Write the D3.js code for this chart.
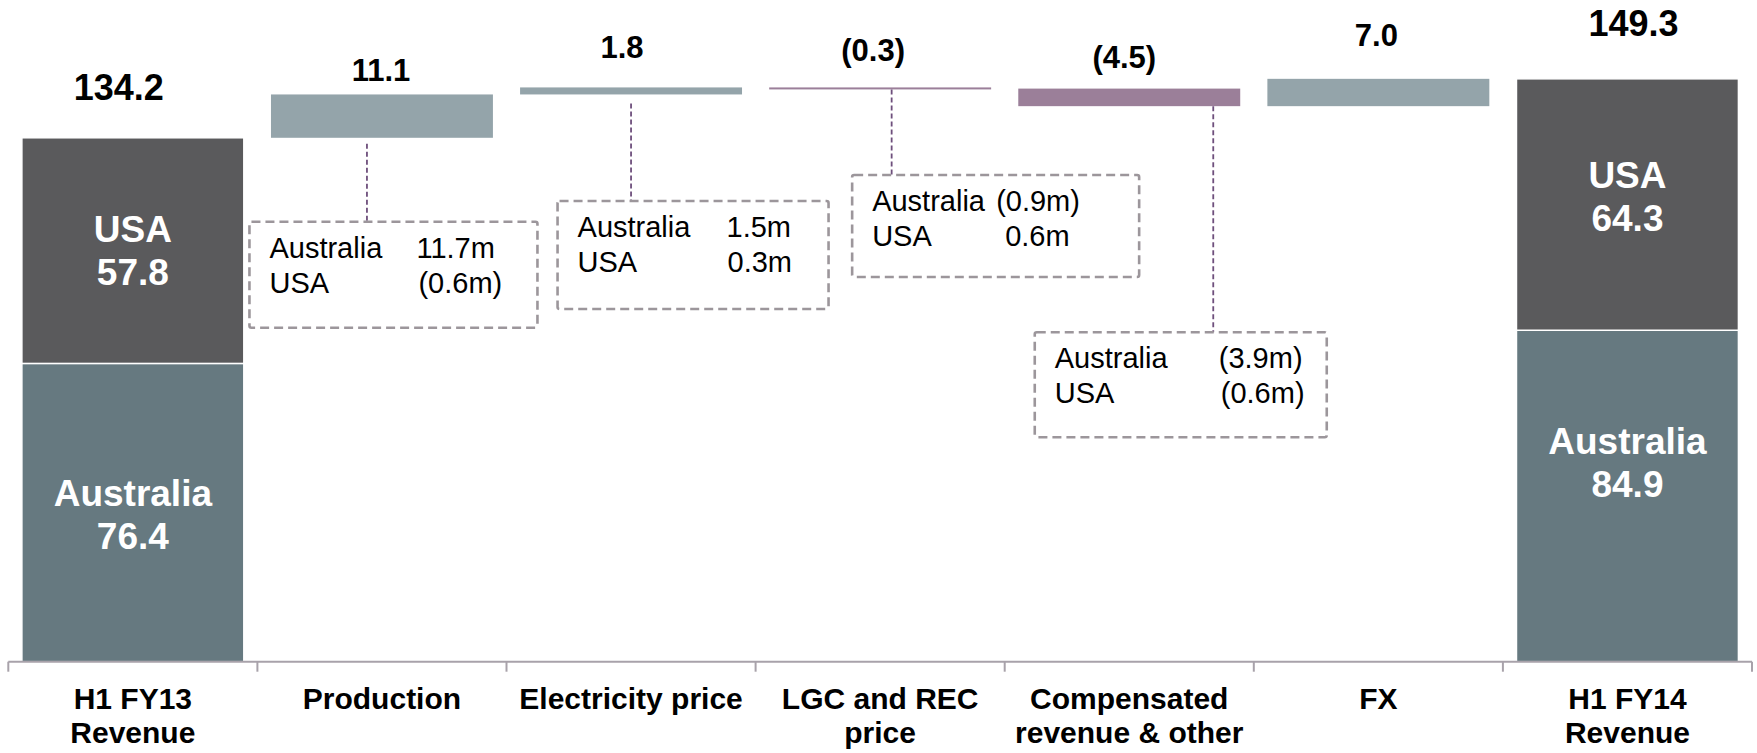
<!DOCTYPE html>
<html>
<head>
<meta charset="utf-8">
<script src="https://cdn.jsdelivr.net/npm/d3@7"></script>
<style>
  body { margin: 0; background: #fff; }
  svg text { font-family: "Liberation Sans", Arial, sans-serif; }
</style>
</head>
<body>
<svg class="chart"></svg>
<script>
// data

const categories = [
  ["H1 FY13", "Revenue"],
  ["Production"],
  ["Electricity price"],
  ["LGC and REC", "price"],
  ["Compensated", "revenue & other"],
  ["FX"],
  ["H1 FY14", "Revenue"]
];
const regions = ["Australia", "USA"];
const fy13Values = [76.4, 57.8];
const fy14Values = [84.9, 64.3];
const revenueTotals = [134.2, 149.3];
const deltas = [11.1, 1.8, -0.3, -4.5, 7.0];
const australiaDetail = [11.7, 1.5, -0.9, -3.9];
const usaDetail = [-0.6, 0.3, 0.6, -0.6];

// layout

const width = 1757, height = 753;
const baseY = 661.7;

const colors = {
  USA: "#5a5a5c",
  Australia: "#667980",
  up: "#94a4aa",
  down: "#9b7f99",
  box: "#9c969b",
  link: "#6e4f7c",
  axis: "#a8a2aa"
};

// label nudges (px) for totals/deltas: [dx, gap above bar top]
const labelNudge = [[-14, 38], [-1, 13], [-9, 29], [-7, 26], [-5, 21], [-2, 33], [6, 43]];
// inside-bar label vertical nudge per stacked bar
const stackNudge = { 0: [1, -1], 6: [-34, -9] };

// annotation boxes, relative to the band centre of their category
const boxes = [
  { dx: -132.5, top: 221.7, w: 288, h: 106, linkDx: -15, gap: 6, valX: [167, 169] },
  { dx: -73.5, top: 201, w: 271, h: 108, linkDx: 0, gap: 9, valX: [169, 170] },
  { dx: -28, top: 175, w: 287, h: 102, linkDx: 11.5, gap: 0, valX: [144, 153] },
  { dx: -94.5, top: 332.3, w: 292, h: 105, linkDx: 84, gap: 0, valX: [184, 186] }
];

const fmtDelta = (v) => v < 0 ? `(${d3.format(".1f")(-v)})` : d3.format(".1f")(v);
const fmtM = (v) => v < 0 ? `(${d3.format(".1f")(-v)}m)` : `${d3.format(".1f")(v)}m`;

const svg = d3.select(".chart")
  .attr("width", width)
  .attr("height", height);

const x = d3.scaleBand()
  .domain(d3.range(categories.length))
  .range([8.3, 1752])
  .paddingInner(0.109)
  .paddingOuter(0.0545);

const y = d3.scaleLinear()
  .domain([0, 150])
  .range([baseY, 76.1]);

// build waterfall steps

let running = revenueTotals[0];
const steps = deltas.map((d, i) => {
  const s = { i: i + 1, from: running, to: running + d, value: d };
  running += d;
  return s;
});

// stacked totals

const stacks = [
  { i: 0, vals: fy13Values, total: revenueTotals[0] },
  { i: 6, vals: fy14Values, total: revenueTotals[1] }
];

stacks.forEach((st) => {
  let acc = 0;
  const segs = regions.map((r, k) => {
    const seg = { region: r, y0: acc, y1: acc + st.vals[k], value: st.vals[k] };
    acc += st.vals[k];
    return seg;
  });
  // top segment reaches the reported total
  segs[segs.length - 1].y1 = st.total;

  const g = svg.append("g").attr("class", "stack");

  g.selectAll("rect")
    .data(segs)
    .enter().append("rect")
    .attr("x", x(st.i))
    .attr("width", x.bandwidth())
    .attr("y", (d) => y(d.y1))
    .attr("height", (d) => y(d.y0) - y(d.y1))
    .attr("fill", (d) => colors[d.region])
    .attr("stroke", "#fff")
    .attr("stroke-width", 1.5);

  const lbl = g.selectAll("text.seg")
    .data(segs)
    .enter().append("text")
    .attr("class", "seg")
    .attr("text-anchor", "middle")
    .attr("font-size", 37)
    .attr("font-weight", "bold")
    .attr("fill", "#fff")
    .attr("transform", (d, k) => {
      const cy = (y(d.y0) + y(d.y1)) / 2 + (stackNudge[st.i] ? stackNudge[st.i][k] : 0);
      return `translate(${x(st.i) + x.bandwidth() / 2},${cy})`;
    });
  lbl.append("tspan").attr("x", 0).attr("y", -8).text((d) => d.region);
  lbl.append("tspan").attr("x", 0).attr("y", 35).text((d) => d3.format(".1f")(d.value));

  g.append("text")
    .attr("text-anchor", "middle")
    .attr("font-size", 36)
    .attr("font-weight", "bold")
    .attr("fill", "#000")
    .attr("x", x(st.i) + x.bandwidth() / 2 + labelNudge[st.i][0])
    .attr("y", y(st.total) - labelNudge[st.i][1])
    .text(d3.format(".1f")(st.total));
});

// floating delta bars

const stepG = svg.selectAll("g.step")
  .data(steps)
  .enter().append("g")
  .attr("class", "step");

stepG.append("rect")
  .attr("x", (d) => x(d.i))
  .attr("width", x.bandwidth())
  .attr("y", (d) => y(Math.max(d.from, d.to)))
  .attr("height", (d) => Math.max(2, Math.abs(y(d.from) - y(d.to))))
  .attr("fill", (d) => d.value < 0 ? colors.down : colors.up);

stepG.append("text")
  .attr("text-anchor", "middle")
  .attr("font-size", 31)
  .attr("font-weight", "bold")
  .attr("fill", "#000")
  .attr("x", (d) => x(d.i) + x.bandwidth() / 2 + labelNudge[d.i][0])
  .attr("y", (d) => y(Math.max(d.from, d.to)) - labelNudge[d.i][1])
  .text((d) => fmtDelta(d.value));

// annotation boxes with regional split

const notes = boxes.map((b, k) => {
  const st = steps[k];
  const cx = x(st.i) + x.bandwidth() / 2;
  const barBottom = Math.max(y(Math.min(st.from, st.to)), y(Math.max(st.from, st.to)) + 2);
  return Object.assign({}, b, {
    left: cx + b.dx,
    linkX: cx + b.linkDx,
    linkY: barBottom + b.gap,
    rows: [[regions[0], australiaDetail[k]], [regions[1], usaDetail[k]]]
  });
});

const noteG = svg.selectAll("g.note")
  .data(notes)
  .enter().append("g")
  .attr("class", "note");

noteG.append("line")
  .attr("x1", (d) => d.linkX)
  .attr("x2", (d) => d.linkX)
  .attr("y1", (d) => d.linkY)
  .attr("y2", (d) => d.top)
  .attr("stroke", colors.link)
  .attr("stroke-width", 1.8)
  .attr("stroke-dasharray", "5,3");

noteG.append("rect")
  .attr("x", (d) => d.left)
  .attr("y", (d) => d.top)
  .attr("width", (d) => d.w)
  .attr("height", (d) => d.h)
  .attr("rx", 2)
  .attr("fill", "none")
  .attr("stroke", colors.box)
  .attr("stroke-width", 2.6)
  .attr("stroke-dasharray", "9,5");

noteG.each(function (d) {
  const g = d3.select(this);
  d.rows.forEach((row, r) => {
    const ty = d.top + 36 + r * 35;
    g.append("text")
      .attr("x", d.left + 20)
      .attr("y", ty)
      .attr("font-size", 29)
      .attr("fill", "#000")
      .text(row[0]);
    g.append("text")
      .attr("x", d.left + d.valX[r])
      .attr("y", ty)
      .attr("font-size", 29)
      .attr("fill", "#000")
      .text(fmtM(row[1]));
  });
});

// axis

const axisG = svg.append("g").attr("class", "axis");
const x0 = x.range()[0], x1 = x.range()[1];

axisG.append("line")
  .attr("x1", x0).attr("x2", x1)
  .attr("y1", baseY).attr("y2", baseY)
  .attr("stroke", colors.axis)
  .attr("stroke-width", 2);

axisG.selectAll("line.tick")
  .data(d3.range(categories.length + 1))
  .enter().append("line")
  .attr("class", "tick")
  .attr("x1", (i) => x0 + i * x.step())
  .attr("x2", (i) => x0 + i * x.step())
  .attr("y1", baseY)
  .attr("y2", baseY + 10)
  .attr("stroke", colors.axis)
  .attr("stroke-width", 2);

// one text per label line so wrapped lines stay apart
axisG.selectAll("text.cat")
  .data(categories.flatMap((d, i) => d.map((line, k) => ({ line, i, k }))))
  .enter().append("text")
  .attr("class", "cat")
  .attr("text-anchor", "middle")
  .attr("font-size", 30)
  .attr("font-weight", "bold")
  .attr("fill", "#000")
  .attr("x", (d) => x(d.i) + x.bandwidth() / 2)
  .attr("y", (d) => 709 + d.k * 34)
  .text((d) => d.line);
</script>
</body>
</html>
